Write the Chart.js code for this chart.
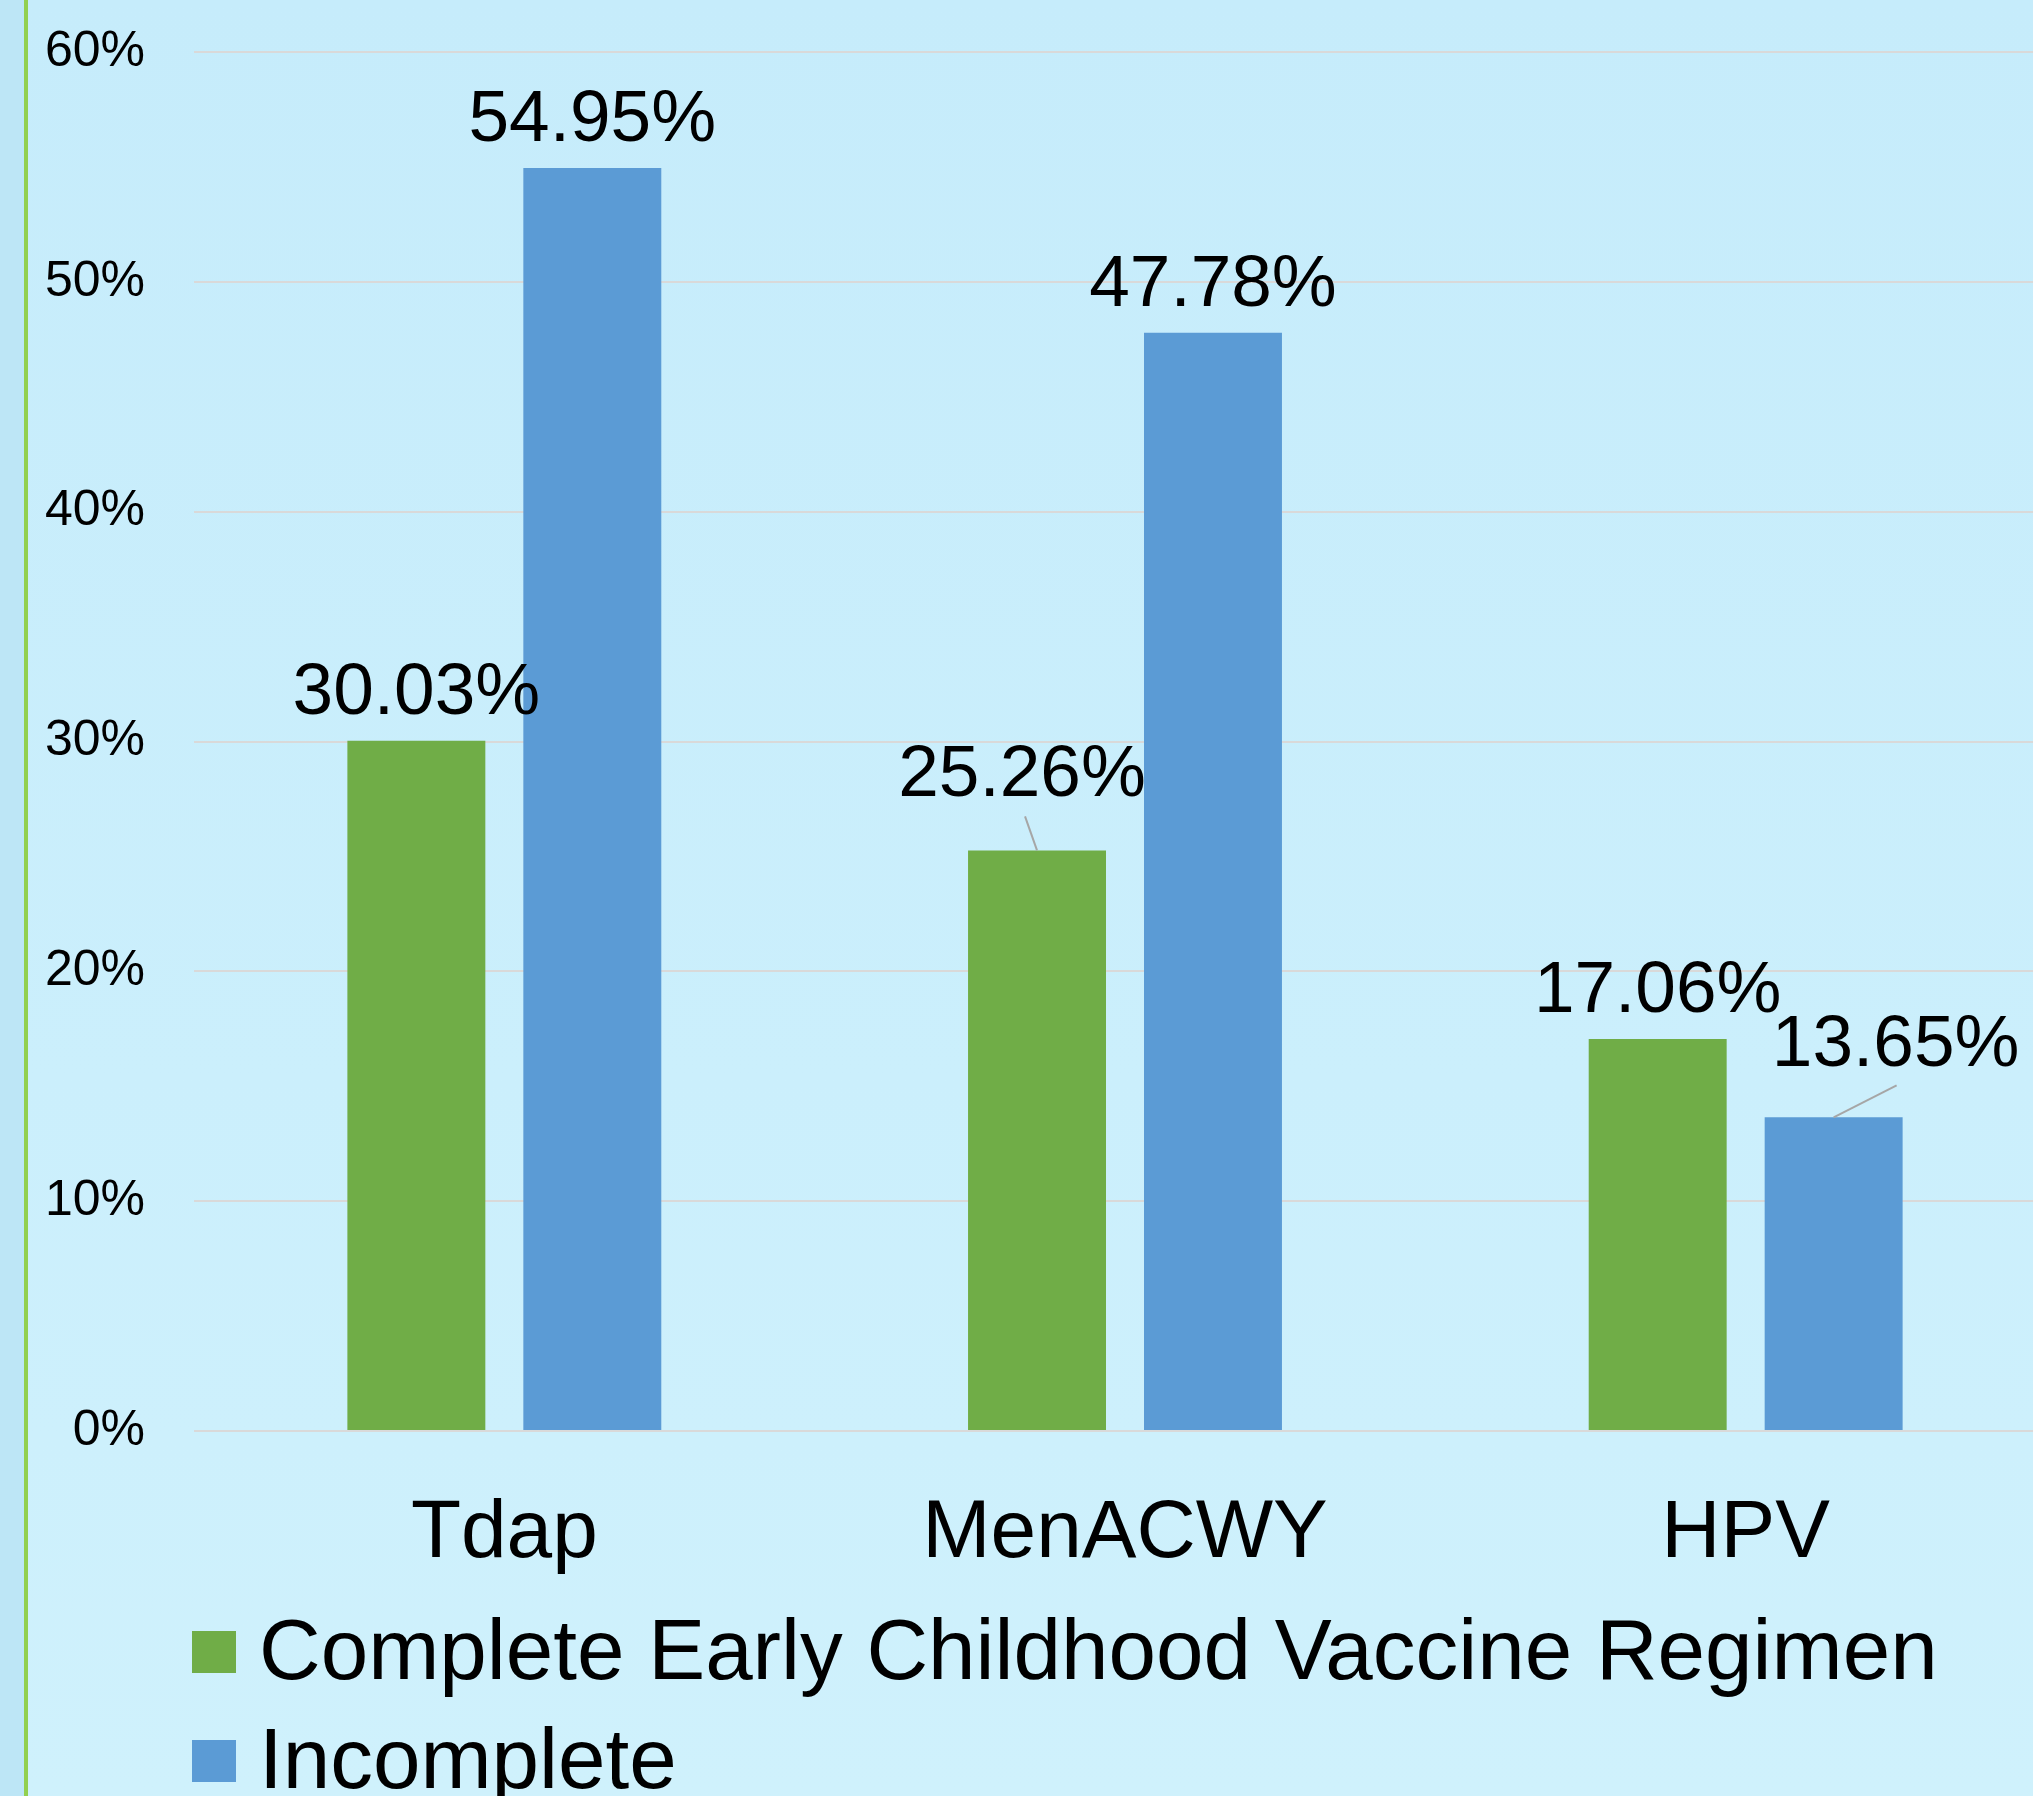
<!DOCTYPE html>
<html>
<head>
<meta charset="utf-8">
<script src="https://cdn.jsdelivr.net/npm/chart.js@4.4.1/dist/chart.umd.min.js"></script>
<style>
  html, body { margin: 0; padding: 0; width: 2033px; height: 1796px; overflow: hidden; }
  #wrap {
    position: relative; width: 2033px; height: 1796px; overflow: hidden;
    background: linear-gradient(180deg, #c6ecfb 0%, #cbeffc 60%, #cff1fc 100%);
  }
  #strip { position: absolute; left: 0; top: 0; width: 24px; height: 100%; background: #bde6f6; }
  #rule { position: absolute; left: 24px; top: 0; width: 4px; height: 100%; background: #92d050; }
  canvas { position: absolute; left: 0; top: 0; }
</style>
</head>
<body>
<div id="wrap">
  <div id="strip"></div>
  <div id="rule"></div>
  <canvas id="check" width="2090" height="1900"></canvas>
</div>
<script>
const categories = ['Tdap', 'MenACWY', 'HPV'];
const seriesNames = ['Complete Early Childhood Vaccine Regimen', 'Incomplete'];
const completeValues = [30.03, 25.26, 17.06];
const incompleteValues = [54.95, 47.78, 13.65];
const tickValues = [0, 10, 20, 30, 40, 50, 60];

const FONT = '"Liberation Sans", Arial, sans-serif';

// label nudges for the two labels that Excel pulled off their bars (with leader lines)
const labelShift = [
    [[0, 0], [-15, -27], [0, 0]],
    [[0, 0], [0, 0], [62, -24]]
];
const leaderStart = [
    [null, [-12, -34], null],
    [null, null, [63, -32]]
];

const valueLabels = {
    id: 'valueLabels',
    afterDatasetsDraw(chart) {
        const ctx = chart.ctx;
        ctx.save();
        chart.data.datasets.forEach((ds, di) => {
            chart.getDatasetMeta(di).data.forEach((bar, i) => {
                const lead = leaderStart[di][i];
                if (lead) {
                    ctx.strokeStyle = '#a6a6a6';
                    ctx.lineWidth = 2;
                    ctx.beginPath();
                    ctx.moveTo(bar.x + lead[0], bar.y + lead[1]);
                    ctx.lineTo(bar.x, bar.y);
                    ctx.stroke();
                }
                const s = labelShift[di][i];
                ctx.font = '73px ' + FONT;
                ctx.fillStyle = '#000';
                ctx.textAlign = 'center';
                ctx.textBaseline = 'alphabetic';
                ctx.fillText(ds.data[i].toFixed(2) + '%', bar.x + s[0], bar.y - 27 + s[1]);
            });
        });
        ctx.restore();
    }
};

const stackedLegend = {
    id: 'stackedLegend',
    afterDraw(chart) {
        const ctx = chart.ctx;
        ctx.save();
        chart.data.datasets.forEach((ds, di) => {
            const cy = 1652 + di * 109;
            ctx.fillStyle = ds.backgroundColor;
            ctx.fillRect(192, cy - 21, 44, 42);
            ctx.fillStyle = '#000';
            ctx.font = '85.4px ' + FONT;
            ctx.textAlign = 'left';
            ctx.textBaseline = 'middle';
            ctx.fillText(ds.label, 259, cy + 3);
        });
        ctx.restore();
    }
};

function createChart(chartId) {
    const ctx = document.getElementById(chartId);
    new Chart(ctx, {
        type: 'bar',
        data: {
            labels: categories,
            datasets: [
                {
                    label: seriesNames[0],
                    data: completeValues,
                    backgroundColor: '#70ad47',
                    categoryPercentage: 0.567,
                    barPercentage: 0.784,
                },
                {
                    label: seriesNames[1],
                    data: incompleteValues,
                    backgroundColor: '#5b9bd5',
                    categoryPercentage: 0.567,
                    barPercentage: 0.784,
                },
            ],
        },
        options: {
            responsive: false,
            devicePixelRatio: 1,
            animation: false,
            layout: { padding: { top: 52, right: 34, bottom: 317, left: 0 } },
            plugins: {
                legend: { display: false },
                tooltip: { enabled: false },
            },
            scales: {
                x: {
                    afterFit(scale) { scale.height = 152; },
                    grid: { display: false, drawTicks: false },
                    border: { display: false },
                    ticks: { color: '#000', font: { family: FONT, size: 82 }, padding: 54 },
                },
                y: {
                    min: 0,
                    max: 60,
                    afterFit(scale) {
                        scale.width = 194;
                        scale.paddingTop = 0;
                        scale.paddingBottom = 0;
                    },
                    afterBuildTicks(scale) { scale.ticks = tickValues.map(v => ({ value: v })); },
                    grid: { color: '#d9d9d9', lineWidth: 2, drawTicks: false },
                    border: { display: false },
                    ticks: {
                        color: '#000',
                        font: { family: FONT, size: 50 },
                        padding: 49,
                        callback: v => v + '%',
                    },
                },
            },
        },
        plugins: [valueLabels, stackedLegend],
    });
}

createChart('check');
</script>
</body>
</html>
